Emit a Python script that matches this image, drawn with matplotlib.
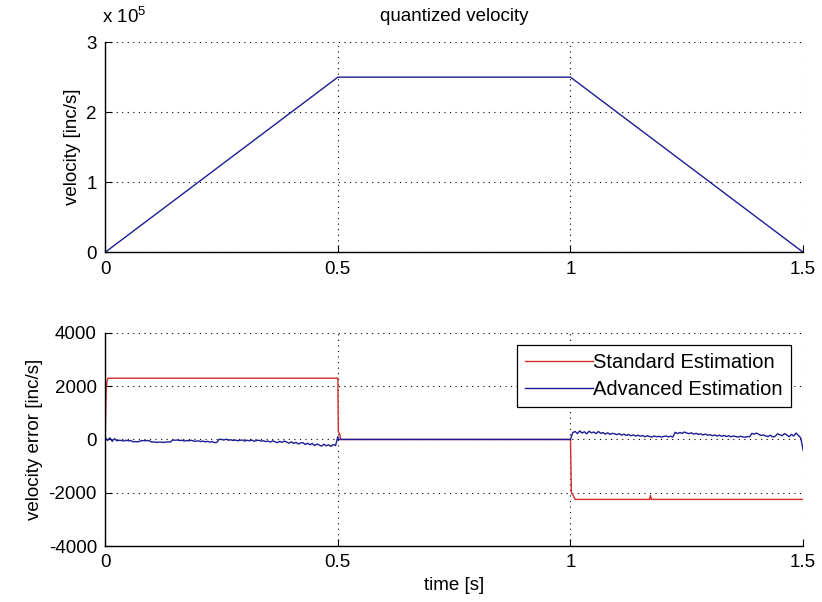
import numpy as np
import matplotlib
matplotlib.use('Agg')
import matplotlib.pyplot as plt

plt.rcParams['font.family'] = ['Liberation Sans', 'DejaVu Sans']
plt.rcParams['axes.unicode_minus'] = False
plt.rcParams['mathtext.fontset'] = 'custom'
plt.rcParams['mathtext.rm'] = 'Liberation Sans'
plt.rcParams['mathtext.it'] = 'Liberation Sans'

# top plot: commanded velocity profile
t_profile = [0.0, 0.5, 1.0, 1.5]
v_profile = [0.0, 2.5e5, 2.5e5, 0.0]
v_ticks = [0, 1e5, 2e5, 3e5]
v_ticklabels = ['0', '1', '2', '3']

# bottom plot: standard estimation error (step shape)
t_std = [0.0, 0.002, 0.004, 0.006, 0.5, 0.501, 0.504, 0.506,
         1.0, 1.002, 1.006, 1.01, 1.17, 1.172, 1.174, 1.5]
e_std = [0, 1900, 2200, 2300, 2300, 300, 200, 0,
         0, -2000, -2100, -2250, -2250, -2100, -2250, -2250]

# advanced estimation error (5 ms steps)
t_acc = [i * 0.005 for i in range(101)]
e_acc = [80, -40, 60, -70, 30, -50, -30, -40, -60, -30,
         -50, -40, -90, -80, -90, -60, -40, -50, -40, -50,
         -100, -90, -110, -100, -100, -110, -100, -90, -100, -20,
         -30, -20, -40, -30, -60, -40, -50, -30, -60, -70,
         -50, -80, -60, -90, -70, -100, -80, -120, -110, 10,
         0, -20, 10, -30, -10, -40, -20, -50, -30, -20,
         -60, -30, -50, -20, -70, -40, -30, -60, -50, -80,
         -60, -100, -50, -90, -120, -70, -110, -60, -100, -140,
         -90, -150, -110, -170, -130, -120, -190, -140, -200, -150,
         -230, -170, -210, -250, -180, -240, -200, -260, -190, -230,
         100]
t_dec = [1.0 + i * 0.005 for i in range(101)]
e_dec = [0, 260, 300, 220, 320, 240, 290, 210, 310, 250,
         280, 220, 300, 230, 260, 200, 250, 190, 230, 210,
         180, 220, 160, 200, 150, 190, 140, 170, 130, 160,
         120, 150, 100, 140, 110, 90, 130, 100, 120, 90,
         110, 130, 100, 120, 90, 270, 220, 260, 230, 280,
         240, 220, 250, 200, 230, 190, 210, 170, 200, 160,
         180, 140, 170, 130, 160, 120, 150, 110, 140, 100,
         130, 110, 90, 120, 100, 80, 110, 100, 230, 200,
         240, 190, 150, 170, 130, 110, 160, 90, 120, 210,
         180, 140, 220, 170, 100, 190, 130, 240, 150, 60,
         -400]
t_flat = [0.5, 1.0]
e_flat = [0, 0]

t_adv = t_acc + t_flat + t_dec
e_adv = e_acc + e_flat + e_dec

fig = plt.figure(figsize=(8.22, 6.02), dpi=100)
ax1 = fig.add_axes([0.128, 0.581, 0.849, 0.349])
ax2 = fig.add_axes([0.128, 0.093, 0.849, 0.354])

blue = '#1c1c96'
red = '#d42a2a'
fs = 13.5

ax1.plot(t_profile, v_profile, color=blue, lw=1.0)
ax1.set_xlim(0, 1.5)
ax1.set_ylim(0, 3e5)
ax1.set_xticks([0, 0.5, 1, 1.5])
ax1.set_xticklabels(['0', '0.5', '1', '1.5'])
ax1.set_yticks(v_ticks)
ax1.set_yticklabels(v_ticklabels)
ax1.annotate('x 10$^{5}$', xy=(0, 1), xycoords='axes fraction',
             xytext=(-2, 11), textcoords='offset points',
             ha='left', va='bottom', fontsize=fs)
ax1.set_ylabel('velocity [inc/s]', fontsize=fs)
ax1.set_title('quantized velocity', fontsize=fs, pad=15)

ax2.plot(t_std, e_std, color=red, lw=1.0, label='Standard Estimation')
ax2.plot(t_adv, e_adv, color=blue, lw=1.0, label='Advanced Estimation')
ax2.set_xlim(0, 1.5)
ax2.set_ylim(-4000, 4000)
ax2.set_xticks([0, 0.5, 1, 1.5])
ax2.set_xticklabels(['0', '0.5', '1', '1.5'])
ax2.set_yticks([-4000, -2000, 0, 2000, 4000])
ax2.set_ylabel('velocity error [inc/s]', fontsize=fs)
ax2.set_xlabel('time [s]', fontsize=fs)
leg = ax2.legend(loc='upper right', fancybox=False, framealpha=1,
                 edgecolor='black', handlelength=3.4, fontsize=14.5,
                 borderaxespad=0.6, handletextpad=0.0, labelspacing=0.4,
                 borderpad=0.4)
leg.get_frame().set_linewidth(0.9)

for ax in (ax1, ax2):
    ax.spines['top'].set_visible(False)
    ax.spines['right'].set_visible(False)
    ax.spines['left'].set_linewidth(1.0)
    ax.spines['bottom'].set_linewidth(1.0)
    ax.grid(True, color='black', linestyle=(0, (1, 4)), linewidth=0.8)
    ax.tick_params(direction='in', length=5, labelsize=fs, pad=6)

fig.savefig('out.png', dpi=100)
